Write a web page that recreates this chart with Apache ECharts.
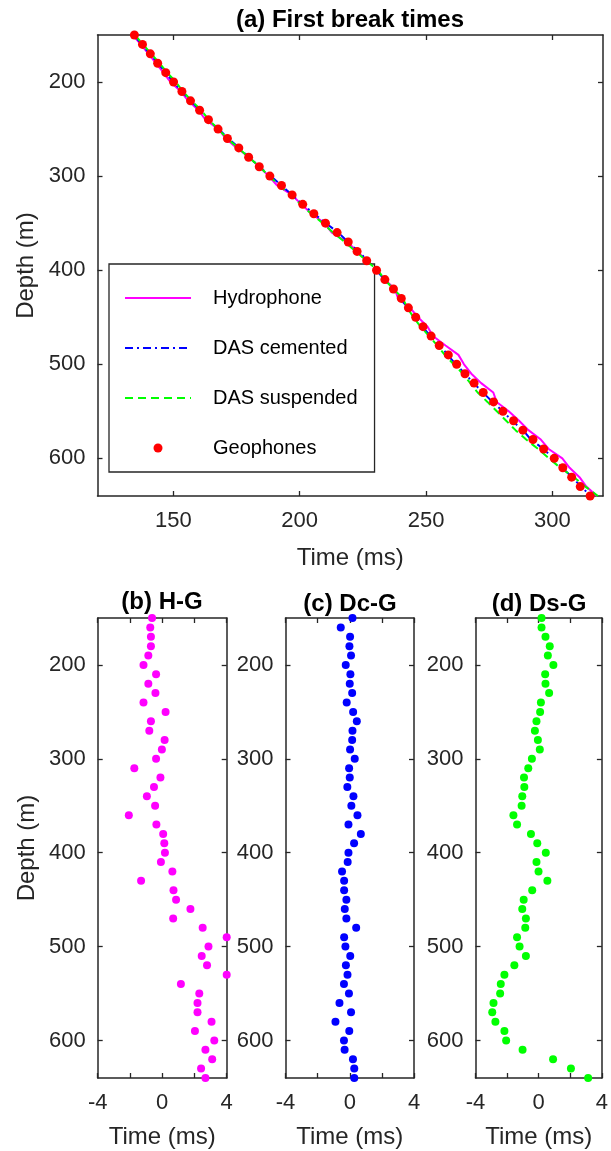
<!DOCTYPE html>
<html>
<head>
<meta charset="utf-8">
<script src="https://cdn.jsdelivr.net/npm/echarts@6/dist/echarts.min.js"></script>
<style>
html,body{margin:0;padding:0;background:#fff;}
#c{width:611px;height:1151px;}
</style>
</head>
<body>
<div id="c"></div>
<script>
// ---------- data ----------
const depths = [150,160,170,180,190,200,210,220,230,240,250,260,270,280,290,300,310,320,330,340,350,360,370,380,390,400,410,420,430,440,450,460,470,480,490,500,510,520,530,540,550,560,570,580,590,600,610,620,630,640];

const geophoneTimes = [134.6,137.8,140.9,143.8,147.0,150.1,153.4,156.8,160.4,163.9,167.7,171.4,175.9,179.8,184.0,188.2,192.8,197.0,201.2,205.6,210.2,214.8,219.2,222.7,226.5,230.4,233.7,237.1,240.2,243.0,245.9,248.8,252.0,255.2,258.8,262.1,265.4,269.0,272.6,276.7,280.4,284.6,288.3,292.3,296.5,300.7,304.1,307.6,311.0,314.9];
const hydrophoneTimes = [134.0,137.1,140.2,143.1,146.1,148.9,153.0,155.9,160.0,162.7,167.9,170.7,175.1,180.0,184.0,187.8,191.1,196.9,200.7,204.7,209.8,212.7,218.8,222.8,226.6,230.6,233.6,237.7,238.9,243.7,246.8,250.6,252.7,257.7,262.8,265.0,267.9,271.8,276.6,277.9,282.7,286.8,290.5,295.4,298.5,303.9,306.8,310.7,313.4,317.6];
const dasCementedTimes = [134.8,137.2,140.9,143.8,147.1,149.9,153.4,156.8,160.6,163.7,167.9,171.8,176.1,180.0,184.0,188.5,192.8,197.0,201.1,205.8,210.3,215.3,219.1,223.4,226.8,230.3,233.6,236.6,239.9,242.7,245.7,248.5,251.8,255.6,258.5,261.8,265.4,268.8,272.5,276.3,280.4,284.0,288.4,291.4,296.5,300.3,303.8,307.8,311.3,315.2];
const dasSuspendedTimes = [134.8,138.0,141.3,144.5,147.6,151.0,153.8,157.2,161.1,164.0,167.8,171.3,175.7,179.8,184.1,187.8,192.1,196.1,200.3,204.6,209.1,213.2,217.8,222.2,226.4,230.9,233.6,237.1,240.8,242.6,245.0,247.8,251.2,254.4,257.4,260.9,264.6,267.5,270.4,274.3,278.0,281.7,285.4,289.6,294.3,298.6,303.1,308.5,313.0,318.0];

const hgDiff = [-0.63,-0.74,-0.70,-0.70,-0.86,-1.16,-0.38,-0.86,-0.42,-1.16,0.21,-0.70,-0.80,0.15,-0.02,-0.38,-1.73,-0.11,-0.51,-0.95,-0.44,-2.07,-0.36,0.06,0.13,0.17,-0.08,0.63,-1.31,0.70,0.86,1.75,0.68,2.51,4.0,2.87,2.45,2.78,4.0,1.16,2.30,2.19,2.19,3.06,2.03,3.23,2.68,3.10,2.41,2.68];
const dcgDiff = [0.17,-0.56,0.02,-0.02,0.08,-0.25,0.04,0.0,0.15,-0.19,0.21,0.44,0.17,0.15,0.02,0.31,-0.04,0.0,-0.15,0.23,0.10,0.48,-0.08,0.69,0.27,-0.08,-0.13,-0.48,-0.35,-0.35,-0.21,-0.31,-0.21,0.40,-0.35,-0.27,0.03,-0.24,-0.14,-0.36,-0.05,-0.64,0.08,-0.89,-0.03,-0.36,-0.32,0.20,0.28,0.28];
const dsgDiff = [0.18,0.18,0.43,0.70,0.58,0.93,0.41,0.43,0.66,0.14,0.09,-0.14,-0.24,-0.05,0.07,-0.43,-0.66,-0.93,-0.91,-1.04,-1.08,-1.60,-1.37,-0.49,-0.09,0.45,-0.14,-0.01,0.55,-0.41,-0.95,-1.04,-0.81,-0.85,-1.37,-1.21,-0.81,-1.54,-2.17,-2.40,-2.44,-2.86,-2.94,-2.74,-2.17,-2.06,-1.02,0.91,2.04,3.13];

const depthTicks = [200,300,400,500,600];
const timeTicks = [150,200,250,300];
const diffTicks = [-4,-2,0,2,4];
const diffTickLabels = [-4,0,4];

const seriesNames = ['Hydrophone','DAS cemented','DAS suspended','Geophones'];
const panelTitles = ['(a) First break times','(b) H-G','(c) Dc-G','(d) Ds-G'];

// ---------- styling ----------
const FONT = '"Liberation Sans", Arial, Helvetica, sans-serif';
const AX = '#262626';
const TXT = '#262626';

const grids = [
  {left:97.5, top:35, width:505.5, height:461},
  {left:97.7, top:618, width:129, height:460},
  {left:285.5, top:618, width:128.5, height:460},
  {left:475.5, top:618, width:127.5, height:460}
];

function pairs(xs){ return xs.map((x,i)=>[x, depths[i]]); }

const axisLine = {show:true, onZero:false, lineStyle:{color:AX, width:1.5}};

function xAxes(gi, min, max, ticks, labels, nameGap){
  return [
    {type:'value', gridIndex:gi, position:'bottom', min:min, max:max,
     axisLine:axisLine,
     axisTick:{show:true, inside:true, length:5, customValues:ticks, lineStyle:{color:AX, width:1.3}},
     axisLabel:{show:true, customValues:labels, fontSize:22, color:TXT, fontFamily:FONT, margin:14},
     splitLine:{show:false},
     name:'Time (ms)', nameLocation:'middle', nameGap:nameGap,
     nameTextStyle:{fontSize:24, color:TXT, fontFamily:FONT}},
    {type:'value', gridIndex:gi, position:'top', min:min, max:max,
     axisLine:axisLine,
     axisTick:{show:true, inside:true, length:5, customValues:ticks, lineStyle:{color:AX, width:1.3}},
     axisLabel:{show:false}, splitLine:{show:false}}
  ];
}
function yAxes(gi, showName, nameGap){
  return [
    {type:'value', gridIndex:gi, position:'left', inverse:true, min:150, max:640,
     axisLine:axisLine,
     axisTick:{show:true, inside:true, length:5, customValues:depthTicks, lineStyle:{color:AX, width:1.3}},
     axisLabel:{show:true, customValues:depthTicks, fontSize:22, color:TXT, fontFamily:FONT, margin:12},
     splitLine:{show:false},
     name: showName ? 'Depth (m)' : '', nameLocation:'middle', nameGap:nameGap, nameRotate:90,
     nameTextStyle:{fontSize:24, color:TXT, fontFamily:FONT}},
    {type:'value', gridIndex:gi, position:'right', inverse:true, min:150, max:640,
     axisLine:axisLine,
     axisTick:{show:true, inside:true, length:5, customValues:depthTicks, lineStyle:{color:AX, width:1.3}},
     axisLabel:{show:false}, splitLine:{show:false}}
  ];
}

const xAxis = [].concat(
  xAxes(0, 120, 320, timeTicks, timeTicks, 50),
  xAxes(1, -4, 4, diffTicks, diffTickLabels, 47),
  xAxes(2, -4, 4, diffTicks, diffTickLabels, 47),
  xAxes(3, -4, 4, diffTicks, diffTickLabels, 47)
);
const yAxis = [].concat(
  yAxes(0, true, 59),
  yAxes(1, true, 58),
  yAxes(2, false, 58),
  yAxes(3, false, 58)
);

const titleCenters = [
  {x:350, y:20}, {x:162, y:602}, {x:350, y:604}, {x:539, y:604}
];
const title = panelTitles.map((t,i)=>({
  text:t, left:titleCenters[i].x, top:titleCenters[i].y-12, textAlign:'center', padding:0,
  textStyle:{fontSize:24, fontWeight:'bold', color:'#000', fontFamily:FONT, lineHeight:24}
}));

const legendData = seriesNames.map((n,i)=> i < 3
  ? {name:n, itemStyle:{opacity:0, borderWidth:0}}
  : {name:n, icon:'circle'});

const option = {
  animation:false,
  backgroundColor:'#ffffff',
  title:title,
  grid:grids,
  xAxis:xAxis,
  yAxis:yAxis,
  legend:{
    data:legendData,
    orient:'vertical',
    left:109, top:264,
    padding:[24,17,14,15],
    itemWidth:66, itemHeight:9, itemGap:30,
    backgroundColor:'#ffffff',
    borderColor:'#262626', borderWidth:1.3, borderRadius:0,
    selectedMode:false,
    textStyle:{fontSize:20, color:'#000', fontFamily:FONT, lineHeight:20, padding:[0,0,0,17]}
  },
  series:[
    {name:seriesNames[0], type:'line', xAxisIndex:0, yAxisIndex:0, data:pairs(hydrophoneTimes),
     symbol:'none', color:'#FF00FF', lineStyle:{color:'#FF00FF', width:2}, clip:false, z:2},
    {name:seriesNames[1], type:'line', xAxisIndex:0, yAxisIndex:0, data:pairs(dasCementedTimes),
     symbol:'none', color:'#0000FF', lineStyle:{color:'#0000FF', width:2, type:[8,4,2,4]}, clip:false, z:3},
    {name:seriesNames[2], type:'line', xAxisIndex:0, yAxisIndex:0, data:pairs(dasSuspendedTimes),
     symbol:'none', color:'#00FF00', lineStyle:{color:'#00FF00', width:2, type:[8,5]}, clip:false, z:4},
    {name:seriesNames[3], type:'scatter', xAxisIndex:0, yAxisIndex:0, data:pairs(geophoneTimes),
     symbol:'circle', symbolSize:9, color:'#FF0000', itemStyle:{color:'#FF0000', opacity:1}, clip:false, z:5},
    {name:'H-G', type:'scatter', xAxisIndex:2, yAxisIndex:2, data:pairs(hgDiff),
     symbol:'circle', symbolSize:8, itemStyle:{color:'#FF00FF', opacity:1}, clip:false},
    {name:'Dc-G', type:'scatter', xAxisIndex:4, yAxisIndex:4, data:pairs(dcgDiff),
     symbol:'circle', symbolSize:8, itemStyle:{color:'#0000FF', opacity:1}, clip:false},
    {name:'Ds-G', type:'scatter', xAxisIndex:6, yAxisIndex:6, data:pairs(dsgDiff),
     symbol:'circle', symbolSize:8, itemStyle:{color:'#00FF00', opacity:1}, clip:false}
  ]
};

const chart = echarts.init(document.getElementById('c'), null, {renderer:'canvas', width:611, height:1151});
chart.setOption(option);
</script>
</body>
</html>
